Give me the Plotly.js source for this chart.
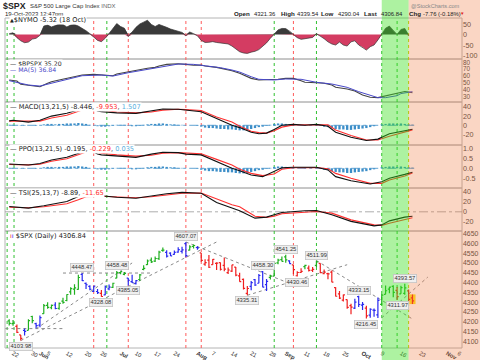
<!DOCTYPE html>
<html><head><meta charset="utf-8">
<script src="https://cdn.plot.ly/plotly-3.0.1.min.js"></script>
<style>html,body{margin:0;padding:0;background:#fff}#chart{width:480px;height:360px}</style>
</head><body><div id="chart"></div>
<script>
// ================= DATA =================
const holidays = ['2023-05-29','2023-06-19','2023-07-04','2023-09-04'];
const days = ['2023-05-19','2023-05-22','2023-05-23','2023-05-24','2023-05-25','2023-05-26','2023-05-30','2023-05-31','2023-06-01',
'2023-06-02','2023-06-05','2023-06-06','2023-06-07','2023-06-08','2023-06-09','2023-06-12','2023-06-13','2023-06-14','2023-06-15','2023-06-16',
'2023-06-20','2023-06-21','2023-06-22','2023-06-23','2023-06-26','2023-06-27','2023-06-28','2023-06-29','2023-06-30',
'2023-07-03','2023-07-05','2023-07-06','2023-07-07','2023-07-10','2023-07-11','2023-07-12','2023-07-13','2023-07-14',
'2023-07-17','2023-07-18','2023-07-19','2023-07-20','2023-07-21','2023-07-24','2023-07-25','2023-07-26','2023-07-27','2023-07-28','2023-07-31','2023-08-01',
'2023-08-02','2023-08-03','2023-08-04','2023-08-07','2023-08-08','2023-08-09','2023-08-10','2023-08-11','2023-08-14','2023-08-15','2023-08-16','2023-08-17','2023-08-18',
'2023-08-21','2023-08-22','2023-08-23','2023-08-24','2023-08-25','2023-08-28','2023-08-29','2023-08-30','2023-08-31','2023-09-01',
'2023-09-05','2023-09-06','2023-09-07','2023-09-08','2023-09-11','2023-09-12','2023-09-13','2023-09-14','2023-09-15',
'2023-09-18','2023-09-19','2023-09-20','2023-09-21','2023-09-22','2023-09-25','2023-09-26','2023-09-27','2023-09-28','2023-09-29',
'2023-10-02','2023-10-03','2023-10-04','2023-10-05','2023-10-06','2023-10-09','2023-10-10','2023-10-11','2023-10-12','2023-10-13','2023-10-16','2023-10-17','2023-10-18','2023-10-19'];
const open = [4204.15,4190.78,4176.80,4132.96,4155.71,4156.16,4226.71,4190.74,4183.03,
 4241.01,4282.99,4271.34,4285.47,4268.69,4304.88,4308.32,4352.61,4366.29,4365.33,4440.95,
 4396.11,4380.01,4355.40,4354.17,4344.84,4337.36,4367.48,4374.94,4422.44,
 4450.48,4442.04,4422.62,4404.54,4394.23,4415.55,4467.69,4491.50,4514.61,
 4508.86,4521.78,4563.87,4554.38,4550.16,4543.39,4555.19,4558.96,4598.26,4565.75,4584.82,4578.83,
 4550.93,4494.27,4513.96,4491.58,4498.03,4501.57,4487.16,4450.69,4458.13,4478.87,4433.79,4416.32,4344.88,
 4380.28,4415.33,4396.44,4455.16,4389.38,4426.03,4432.75,4500.34,4517.01,4530.60,
 4510.06,4490.35,4434.55,4451.30,4480.98,4473.27,4462.65,4487.78,4497.98,
 4445.13,4445.41,4452.81,4374.36,4341.74,4310.62,4312.88,4282.63,4269.65,4328.18,
 4284.52,4269.75,4233.83,4259.31,4234.79,4289.02,4339.75,4366.59,4380.94,4360.49,4342.37,4345.23,4357.35,4321.36];
const high = [4212.91,4209.22,4185.68,4132.96,4165.74,4212.87,4231.10,4195.44,4232.43,
 4290.67,4299.28,4288.33,4299.19,4298.01,4322.62,4340.13,4375.37,4391.82,4439.20,4448.47,
 4400.15,4386.22,4382.25,4366.55,4362.06,4384.42,4390.35,4398.39,4458.48,
 4456.46,4454.06,4422.62,4440.39,4412.60,4443.64,4488.34,4517.38,4527.76,
 4532.85,4562.30,4578.43,4564.74,4555.00,4563.41,4580.62,4582.47,4607.07,4590.16,4594.22,4584.62,
 4550.93,4519.49,4540.34,4519.84,4503.31,4502.44,4527.37,4476.23,4490.33,4478.87,4449.95,4421.17,4381.82,
 4407.55,4418.59,4443.18,4458.30,4418.46,4439.56,4500.14,4521.65,4532.26,4541.25,
 4514.29,4490.35,4457.81,4473.53,4490.77,4487.11,4479.39,4511.99,4497.98,
 4466.36,4449.85,4461.03,4375.70,4357.40,4338.51,4313.01,4292.07,4317.27,4333.15,
 4300.58,4281.15,4268.50,4267.13,4324.10,4341.73,4385.46,4378.64,4385.85,4377.10,4383.33,4393.57,4364.20,4339.54];
const low = [4180.20,4179.68,4142.54,4103.98,4129.73,4156.16,4192.18,4166.15,4171.64,
 4241.01,4266.82,4263.09,4263.96,4261.07,4291.70,4304.37,4337.54,4337.85,4362.60,4407.44,
 4367.19,4360.14,4351.82,4341.34,4328.08,4335.00,4360.22,4371.97,4422.44,
 4442.29,4436.61,4385.05,4397.40,4389.92,4408.46,4463.23,4489.36,4499.56,
 4504.90,4514.59,4557.48,4527.56,4535.79,4541.29,4552.42,4547.58,4528.56,4564.01,4573.14,4567.53,
 4505.75,4485.54,4474.55,4491.15,4464.39,4461.33,4457.92,4443.98,4453.44,4432.19,4403.55,4364.83,4335.31,
 4360.30,4382.77,4396.44,4375.55,4356.29,4414.98,4431.68,4493.59,4507.39,4501.35,
 4496.01,4442.38,4430.46,4448.38,4467.89,4456.83,4453.52,4478.69,4447.21,
 4442.11,4416.61,4401.38,4329.17,4316.49,4302.70,4265.98,4238.63,4264.38,4274.86,
 4260.21,4216.45,4220.48,4225.91,4219.55,4283.79,4339.64,4345.34,4325.43,4311.97,4342.37,4337.54,4303.84,4290.04];
const close = [4191.98,4192.63,4145.58,4115.24,4151.28,4205.45,4205.52,4179.83,4221.02,
 4282.37,4273.79,4283.85,4267.52,4293.93,4298.86,4338.93,4369.01,4372.59,4425.84,4409.59,
 4388.71,4365.69,4381.89,4348.33,4328.82,4378.41,4376.86,4396.44,4450.38,
 4455.59,4446.82,4411.59,4398.95,4409.53,4439.26,4472.16,4510.04,4505.42,
 4522.79,4554.98,4565.72,4534.87,4536.34,4554.64,4567.46,4566.75,4537.41,4582.23,4588.96,4576.73,
 4513.39,4501.89,4478.03,4518.44,4499.38,4467.71,4468.83,4464.05,4489.72,4437.86,4404.33,4370.36,4369.71,
 4399.77,4387.55,4436.01,4376.31,4405.71,4433.31,4497.63,4514.87,4507.66,4515.77,
 4496.83,4465.48,4451.14,4457.49,4487.46,4461.90,4467.44,4505.10,4450.32,
 4453.53,4443.95,4402.20,4330.00,4320.06,4337.44,4273.53,4274.51,4299.70,4288.05,
 4288.39,4229.45,4263.75,4258.19,4308.50,4335.66,4358.24,4376.95,4349.61,4327.78,4373.63,4373.20,4314.60,4306.84];
// bar colour per day: g = green, r = red, b = blue
const impulse = ('ggrrbggbb'+'gggbggggggb'+'bbbbrbbgg'+'ggbbbgggg'+'gggbbbbbbggb'+'rrrrrrrrrrrrr'+'bbbbbggggg'+'brrrgrrgr'+'rrrrrrrrbb'+'brbbbggggrggrr').split('');

// $NYMO daily (to 18 Oct)
const nymo = [4,8,-15,-30,-39,-36,-22,-18,-4,
 40,45,36,42,50,48,36,45,48,40,30,
 18,4,-12,-28,-34,-18,5,30,52,
 38,30,-10,12,34,50,58,68,48,
 38,48,42,34,26,20,14,10,-6,12,4,-6,
 -28,-38,-37,-34,-38,-40,-40,-45,-55,-68,-82,-88,-90,
 -84,-80,-72,-56,-40,-18,2,22,29,28,
 16,-2,-15,-23,-20,-16,-14,4,-7,
 -20,-35,-45,-50,-36,-50,-55,-35,-30,-50,
 -60,-74,-58,-50,-26,0,30,40,18,0,24,29,-5.32];

const bpDates = ['2023-05-19','2023-05-23','2023-05-24','2023-05-26','2023-05-30','2023-06-01','2023-06-05','2023-06-06','2023-06-08','2023-06-12','2023-06-14','2023-06-16','2023-06-22','2023-06-26','2023-06-27','2023-06-29','2023-06-30','2023-07-06','2023-07-10','2023-07-11','2023-07-13','2023-07-17','2023-07-18','2023-07-20','2023-07-24','2023-07-25','2023-07-27','2023-07-31','2023-08-02','2023-08-03','2023-08-08','2023-08-10','2023-08-14','2023-08-16','2023-08-21','2023-08-23','2023-08-25','2023-08-30','2023-09-01','2023-09-06','2023-09-08','2023-09-11','2023-09-14','2023-09-18','2023-09-20','2023-09-21','2023-09-26','2023-09-28','2023-10-02','2023-10-04','2023-10-06','2023-10-10','2023-10-12','2023-10-16','2023-10-17','2023-10-18','2023-10-19'];
const bpVals = [54,52.5,47.6,46.6,45.6,44.1,49.1,51.5,54,56.4,58.8,61.3,62.3,61.3,61.3,60.3,62.8,66.2,67.7,68.7,71.2,72.6,74.6,77,77.5,78,77,75.6,76,74.6,72.6,70.2,67.7,63.8,56.4,54,54,55,56.4,56.4,53,50.6,50,49.1,46.6,43.2,40.7,37.8,31.9,28.5,28,30.4,32.9,35,37,36.2,35.2];
const maDates = ['2023-05-19','2023-05-24','2023-05-26','2023-06-01','2023-06-06','2023-06-12','2023-06-16','2023-06-26','2023-06-29','2023-07-06','2023-07-11','2023-07-14','2023-07-20','2023-07-25','2023-07-31','2023-08-03','2023-08-09','2023-08-14','2023-08-16','2023-08-21','2023-08-23','2023-08-29','2023-09-01','2023-09-08','2023-09-14','2023-09-20','2023-09-26','2023-09-29','2023-10-05','2023-10-06','2023-10-10','2023-10-13','2023-10-16','2023-10-19'];
const maVals = [53,49.1,46.6,45.1,49.1,55,60.3,61.3,59.8,64.7,67.7,71.2,75.1,77.5,77,75.1,72.1,68.7,65.7,58.8,55,54,55.5,55,50.6,48.1,43.2,36.8,29.4,28,28,30.9,34,36.84];

const macdDates = ['2023-05-19','2023-05-22','2023-05-26','2023-06-01','2023-06-06','2023-06-12','2023-06-14','2023-06-16','2023-06-20','2023-06-22','2023-06-23','2023-06-26','2023-06-30','2023-07-10','2023-07-14','2023-07-19','2023-07-25','2023-07-27','2023-08-02','2023-08-08','2023-08-14','2023-08-16','2023-08-21','2023-08-23','2023-08-25','2023-08-29','2023-08-31','2023-09-06','2023-09-11','2023-09-14','2023-09-19','2023-09-21','2023-09-27','2023-10-03','2023-10-06','2023-10-11','2023-10-17','2023-10-19'];
const macdVals = [9.6,11,7,11,20,26,31,36,38,36,31,29.6,27,26,31,35.5,35,33,29.6,15,0,-5,-15,-18.5,-17,-9,0,2,0,2,-2,-15,-26,-33,-30,-18.5,-11,-8.446];
const sigDates = ['2023-05-19','2023-05-26','2023-06-01','2023-06-06','2023-06-12','2023-06-16','2023-06-20','2023-06-23','2023-06-27','2023-06-30','2023-07-10','2023-07-14','2023-07-19','2023-07-25','2023-07-27','2023-08-02','2023-08-08','2023-08-14','2023-08-16','2023-08-21','2023-08-23','2023-08-25','2023-08-29','2023-08-31','2023-09-06','2023-09-11','2023-09-14','2023-09-19','2023-09-21','2023-09-27','2023-10-03','2023-10-06','2023-10-11','2023-10-17','2023-10-19'];
const sigVals = [9,8,9,16,22,33,35,34,32,29,27,29,33,35,34,32,18,7,-2,-13,-16,-17,-12,-4,1,1,1,1,-10,-22,-32,-32,-24,-15,-9.953];
const macdHist = [1,1,0,-1,-1,0,0,-1,0,
 2,3,3,2,3,3,4,4,4,5,4,
 3,1,0,-2,-3,-3,-2,-1,1,
 1,1,-1,-2,-2,-1,1,2,3,
 3,4,4,3,2,2,1,1,0,0,0,-1,
 -3,-5,-6,-6,-7,-8,-8,-9,-9,-10,-11,-11,-10,
 -8,-6,-4,-3,-1,1,3,4,4,3,
 2,1,0,0,1,0,0,1,-1,
 -3,-4,-6,-8,-9,-9,-10,-10,-9,-8,
 -7,-6,-4,-2,0,2,3,4,4,3,4,3,2,1.507];

const ppoDates = ['2023-05-19','2023-05-26','2023-06-01','2023-06-06','2023-06-12','2023-06-14','2023-06-16','2023-06-20','2023-06-22','2023-06-23','2023-06-26','2023-06-30','2023-07-10','2023-07-14','2023-07-19','2023-07-25','2023-07-27','2023-08-02','2023-08-08','2023-08-14','2023-08-16','2023-08-21','2023-08-24','2023-08-29','2023-08-31','2023-09-06','2023-09-14','2023-09-19','2023-09-21','2023-09-27','2023-10-04','2023-10-09','2023-10-11','2023-10-17','2023-10-19'];
const ppoVals = [0.21,0.16,0.24,0.41,0.54,0.68,0.82,0.86,0.8,0.70,0.66,0.60,0.54,0.70,0.79,0.77,0.70,0.66,0.33,0,-0.12,-0.33,-0.41,-0.17,0.03,0.05,0.05,-0.08,-0.41,-0.61,-0.77,-0.66,-0.49,-0.30,-0.195];
const ppoSigDates = ['2023-05-19','2023-05-26','2023-06-01','2023-06-06','2023-06-12','2023-06-16','2023-06-20','2023-06-23','2023-06-26','2023-06-30','2023-07-10','2023-07-14','2023-07-19','2023-07-25','2023-07-27','2023-08-02','2023-08-08','2023-08-14','2023-08-16','2023-08-21','2023-08-24','2023-08-29','2023-08-31','2023-09-06','2023-09-14','2023-09-19','2023-09-21','2023-09-27','2023-10-04','2023-10-09','2023-10-11','2023-10-17','2023-10-19'];
const ppoSigVals = [0.19,0.17,0.2,0.35,0.47,0.74,0.8,0.78,0.74,0.66,0.6,0.64,0.74,0.77,0.76,0.72,0.44,0.16,-0.05,-0.25,-0.36,-0.28,-0.05,0.03,0.04,-0.02,-0.25,-0.49,-0.74,-0.74,-0.58,-0.38,-0.229];
const ppoHist = [0.02,0.02,0,-0.02,-0.02,0,0,-0.02,0,
 0.05,0.07,0.07,0.05,0.07,0.07,0.09,0.09,0.09,0.11,0.09,
 0.07,0.02,0,-0.05,-0.07,-0.07,-0.05,-0.02,0.02,
 0.02,0.02,-0.02,-0.05,-0.05,-0.02,0.02,0.05,0.07,
 0.07,0.09,0.09,0.07,0.05,0.05,0.02,0.02,0,0,0,-0.02,
 -0.07,-0.11,-0.14,-0.14,-0.16,-0.18,-0.18,-0.2,-0.2,-0.23,-0.25,-0.25,-0.23,
 -0.18,-0.14,-0.09,-0.07,-0.02,0.02,0.07,0.09,0.09,0.07,
 0.05,0.02,0,0,0.02,0,0,0.02,-0.02,
 -0.07,-0.09,-0.14,-0.18,-0.2,-0.2,-0.23,-0.23,-0.2,-0.18,
 -0.16,-0.14,-0.09,-0.05,0,0.05,0.07,0.09,0.09,0.07,0.09,0.07,0.05,0.035];

const tsiDates = ['2023-05-19','2023-05-26','2023-06-02','2023-06-12','2023-06-15','2023-06-20','2023-06-26','2023-06-30','2023-07-10','2023-07-14','2023-07-20','2023-07-26','2023-08-02','2023-08-08','2023-08-14','2023-08-16','2023-08-22','2023-08-25','2023-08-29','2023-08-31','2023-09-11','2023-09-14','2023-09-20','2023-09-27','2023-10-05','2023-10-09','2023-10-11','2023-10-17','2023-10-19'];
const tsiVals = [10.6,7.4,12,20.6,30.6,36,32,29,27,32,36,38.6,37,18.6,7.4,2,-12.6,-10.6,-6,-1.3,2,2.6,-6,-19,-28,-26,-18,-10.6,-8.89];
const tsiSigVals = [9,8,10,16,24,30,31,30,28,30,34,37,37.5,25,14,10,-9,-11,-9,-4,0,0.6,-2.6,-16,-26,-27,-22.6,-14.6,-11.65];

// annotated price points [date, value, side]
const priceLabels = [['2023-05-24',4103.98,'below'],['2023-06-16',4448.47,'above'],['2023-06-26',4328.08,'below'],
 ['2023-06-30',4458.48,'above'],['2023-07-06',4385.05,'below'],['2023-07-27',4607.07,'above'],['2023-08-18',4335.31,'below'],
 ['2023-08-24',4458.30,'above'],['2023-09-01',4541.25,'above'],['2023-09-07',4430.46,'below'],['2023-09-14',4511.99,'above'],
 ['2023-09-29',4333.15,'above'],['2023-10-03',4216.45,'below'],['2023-10-13',4311.97,'below'],['2023-10-17',4393.57,'above']];
// dotted trend lines [date1, price1, date2, price2]
const trendLines = [['2023-05-18',4165,'2023-06-09',4165],['2023-06-09',4448.47,'2023-07-14',4448.47],
 ['2023-05-24',4104,'2023-08-08',4607],['2023-05-31',4164,'2023-07-07',4500],['2023-07-27',4607,'2023-09-07',4380],
 ['2023-08-18',4335,'2023-09-26',4491],['2023-09-14',4512,'2023-10-19',4214],['2023-10-09',4220,'2023-10-25',4428]];
// vertical signal markers
const markerLines = [['2023-05-18 11:00','g'],['2023-05-22 06:00','g'],['2023-06-22','r'],['2023-06-27 10:00','g'],['2023-07-06','r'],
 ['2023-07-27','r'],['2023-08-02','r'],['2023-08-29','g'],['2023-09-06','r'],['2023-09-14','g'],['2023-10-09','g'],['2023-10-13','g'],['2023-10-18','y']];
const bandDates = ['2023-10-09','2023-10-18'];
const tickDates = ['2023-05-22','2023-05-30','2023-06-01','2023-06-05','2023-06-12','2023-06-20','2023-06-26','2023-07-03','2023-07-10','2023-07-17','2023-07-24','2023-08-01','2023-08-07','2023-08-14','2023-08-21','2023-08-28','2023-09-01','2023-09-11','2023-09-18','2023-09-25','2023-10-02','2023-10-09','2023-10-16','2023-10-23','2023-11-01','2023-11-06'];
const tickText = ['22','30','<b>Jun</b>','5','12','20','26','<b>Jul</b>','10','17','24','<b>Aug</b>','7','14','21','28','<b>Sep</b>','11','18','25','<b>Oct</b>','9','16','23','<b>Nov</b>','6'];

// ================= helpers =================
const DAY = 86400000, ORIGIN = Date.UTC(2023,4,1);
function isTrading(ms){ const d=new Date(ms), wd=d.getUTCDay(); return wd!==0 && wd!==6 && !holidays.includes(d.toISOString().slice(0,10)); }
function countBefore(ms){ let n=0; for(let m=ORIGIN;m<ms;m+=DAY) if(isTrading(m)) n++; return n; }
const BASE_N = countBefore(Date.UTC(2023,4,22));
function tday(s){ const [d,t]=s.split(' '); const ms=Date.parse(d+'T00:00:00Z'); let f=0; if(t){const [hh,mm]=t.split(':').map(Number); f=(hh*60+mm)/1440;} return countBefore(ms)-BASE_N+f; }

const W=480,H=360,ML=5,MR=18,MT=18,MB=12, PW=W-ML-MR, PH=H-MT-MB;
const XR=[-2.1,116.9];
const px = x => (x-ML)/PW, py = y => (H-MB-y)/PH;
const xp = v => (v-XR[0])/(XR[1]-XR[0]);
const edges=[18,59,102,145,188,231,348];
const dom = i => [py(edges[i+1]), py(edges[i])];
const FONT='Liberation Sans, Arial, sans-serif', LFONT='DejaVu Sans, Verdana, sans-serif';
const X = days.map(tday);
const n = days.length;

const traces=[];
// NYMO
const nx = X.slice(0,nymo.length);
traces.push({type:'scatter',mode:'lines',x:nx,y:nymo.map(v=>Math.max(v,0)),fill:'tozeroy',fillcolor:'#3a3a3a',line:{width:0,color:'#3a3a3a'},yaxis:'y',hoverinfo:'skip'});
traces.push({type:'scatter',mode:'lines',x:nx,y:nymo.map(v=>Math.min(v,0)),fill:'tozeroy',fillcolor:'#d43c62',line:{width:0,color:'#d43c62'},yaxis:'y',hoverinfo:'skip'});
traces.push({type:'scatter',mode:'lines',x:nx,y:nymo,line:{width:0.7,color:'#333'},yaxis:'y',hoverinfo:'skip'});
// BPSPX
traces.push({type:'scatter',mode:'lines',x:bpDates.map(tday),y:bpVals,line:{width:1.1,color:'#444'},yaxis:'y2',hoverinfo:'skip'});
traces.push({type:'scatter',mode:'lines',x:maDates.map(tday),y:maVals,line:{width:1,color:'#4848c8'},yaxis:'y2',hoverinfo:'skip'});
// MACD
traces.push({type:'bar',x:X,y:macdHist,width:0.6,marker:{color:'#3c8ec8',line:{width:0}},yaxis:'y3',hoverinfo:'skip'});
traces.push({type:'scatter',mode:'lines',x:sigDates.map(tday),y:sigVals,line:{width:1.1,color:'#ff3030'},yaxis:'y3',hoverinfo:'skip'});
traces.push({type:'scatter',mode:'lines',x:macdDates.map(tday),y:macdVals,line:{width:1.1,color:'#111'},yaxis:'y3',hoverinfo:'skip'});
// PPO
traces.push({type:'bar',x:X,y:ppoHist,width:0.6,marker:{color:'#3c8ec8',line:{width:0}},yaxis:'y4',hoverinfo:'skip'});
traces.push({type:'scatter',mode:'lines',x:ppoSigDates.map(tday),y:ppoSigVals,line:{width:1.1,color:'#ff3030'},yaxis:'y4',hoverinfo:'skip'});
traces.push({type:'scatter',mode:'lines',x:ppoDates.map(tday),y:ppoVals,line:{width:1.1,color:'#111'},yaxis:'y4',hoverinfo:'skip'});
// TSI
traces.push({type:'scatter',mode:'lines',x:tsiDates.map(tday),y:tsiSigVals,line:{width:1.1,color:'#ff3030'},yaxis:'y5',hoverinfo:'skip'});
traces.push({type:'scatter',mode:'lines',x:tsiDates.map(tday),y:tsiVals,line:{width:1.1,color:'#111'},yaxis:'y5',hoverinfo:'skip'});
// SPX bars
const cmap={g:'#20b020',r:'#f01e1e',b:'#2828f0'};
['g','r','b'].forEach(k=>{
  const id=[]; impulse.forEach((c,i)=>{ if(c===k) id.push(i); });
  traces.push({type:'ohlc',x:id.map(i=>X[i]),open:id.map(i=>open[i]),high:id.map(i=>high[i]),low:id.map(i=>low[i]),close:id.map(i=>close[i]),
    increasing:{line:{color:cmap[k],width:1.2}},decreasing:{line:{color:cmap[k],width:1.2}},tickwidth:0.42,yaxis:'y6',hoverinfo:'skip'});
});

// ================= axes =================
function yax(i,range,vals,text,fs){ return {domain:dom(i),range,anchor:'x',side:'right',tickvals:vals,ticktext:text,showgrid:false,zeroline:false,ticks:'',showline:false,
  tickfont:{family:FONT,size:fs||7.2,color:'#444'},fixedrange:true}; }
const spxTicks=[]; for(let v=4100; v<=4650; v+=50) spxTicks.push(v);
const layout={
  width:W,height:H,margin:{l:ML,r:MR,t:MT,b:MB,pad:0},paper_bgcolor:'#fff',plot_bgcolor:'rgba(0,0,0,0)',
  showlegend:false,barmode:'overlay',font:{family:FONT,size:7,color:'#333'},
  xaxis:{range:XR,anchor:'y6',tickvals:tickDates.map(tday),ticktext:tickText,tickfont:{family:FONT,size:5.8,color:'#333'},
    showgrid:false,zeroline:false,showline:false,ticks:'',rangeslider:{visible:false},fixedrange:true},
  yaxis: yax(0,[-116.7,78.6],[50,0,-50,-100],['50','0','-50','-100']),
  yaxis2:yax(1,[21.6,84.9],[80,70,60,50,40,30],['80','70','60','50','40','30'],6.4),
  yaxis3:yax(2,[-42.8,50.6],[40,20,0,-20],['40','20','0','-20']),
  yaxis4:yax(3,[-0.97,1.148],[1,0.5,0,-0.5],['1.0','0.5','0.0','-0.5']),
  yaxis5:yax(4,[-38.2,47.4],[40,20,0,-20],['40','20','0','-20']),
  yaxis6:yax(5,[4066,4663],spxTicks,spxTicks.map(String),6.9),
  shapes:[],annotations:[]
};
const S=layout.shapes, A=layout.annotations;
for(let i=0;i<6;i++){ const d=dom(i); S.push({type:'rect',xref:'paper',yref:'paper',x0:0,x1:1,y0:d[0],y1:d[1],line:{color:'#b4b4b4',width:1},fillcolor:'rgba(0,0,0,0)',layer:'below'}); }
const mcol={g:'#30c030',r:'#ff5a5a',y:'#d8c800'};
markerLines.forEach(([d,c])=>S.push({type:'line',xref:'x',yref:'paper',x0:tday(d),x1:tday(d),y0:0,y1:1,line:{color:mcol[c],width:1,dash:'dot'},layer:'below'}));
S.push({type:'line',xref:'x',yref:'y3',x0:X[0],x1:X[n-1]+0.5,y0:0,y1:0,line:{color:'#3c8ec8',width:0.8,dash:'dashdot'},layer:'below'});
S.push({type:'line',xref:'x',yref:'y4',x0:X[0],x1:X[n-1]+0.5,y0:0,y1:0,line:{color:'#3c8ec8',width:0.8,dash:'dashdot'},layer:'below'});
S.push({type:'line',xref:'paper',yref:'y5',x0:0,x1:1,y0:0,y1:0,line:{color:'#999',width:0.8,dash:'dashdot'},layer:'below'});
trendLines.forEach(([d1,p1,d2,p2])=>S.push({type:'line',xref:'x',yref:'y6',x0:tday(d1),y0:p1,x1:tday(d2),y1:p2,line:{color:'#8a8a8a',width:1,dash:'dot'},layer:'below'}));
// highlight of the latest bar
S.push({type:'rect',xref:'x',yref:'y6',x0:X[n-1]-0.8,x1:X[n-1]+0.8,y0:low[n-1],y1:high[n-1],fillcolor:'#ffe21a',line:{width:0},layer:'below'});
// overlays
const yTop=py(0), yBot=py(H);
S.push({type:'rect',xref:'paper',yref:'paper',x0:xp(tday(bandDates[0])),x1:xp(tday(bandDates[1])),y0:yBot,y1:yTop,fillcolor:'rgba(60,225,30,0.42)',line:{width:0},layer:'above'});
S.push({type:'rect',xref:'paper',yref:'paper',x0:xp(tday(bandDates[1])),x1:px(W),y0:yBot,y1:yTop,fillcolor:'rgba(238,120,60,0.30)',line:{width:0},layer:'above'});

// ================= text =================
function ann(x,y,text,size,color,family,extra){ return Object.assign({xref:'paper',yref:'paper',x:px(x),y:py(y),text,showarrow:false,xanchor:'left',yanchor:'middle',
  font:{family:family||FONT,size:size,color:color||'#222'},borderpad:0},extra||{}); }
const L=n-1, chg=close[L]-close[L-1], pct=chg/close[L-1]*100;
A.push(ann(2,5.8,'<b>$SPX</b>',8.8,'#222'));
A.push(ann(29,6.2,'S&amp;P 500 Large Cap Index <span style="color:#666">INDX</span>',6,'#333'));
A.push(ann(4,14,'19-Oct-2023 12:47pm',6,'#222'));
const hdr=[[233,'<b>Open</b>',6.2],[253,open[L].toFixed(2),5.9],[280,'<b>High</b>',6.2],[296,high[L].toFixed(2),5.9],[320,'<b>Low</b>',6.2],[337,low[L].toFixed(2),5.9],
  [363,'<b>Last</b>',6.2],[380,close[L].toFixed(2),5.9],[408,'<b>Chg</b>',6.2],[422,chg.toFixed(2)+' ('+pct.toFixed(2)+'%)',5.9]];
hdr.forEach(([x,t,s])=>A.push(ann(x,13.8,t,s,'#222')));
A.push(ann(459,13.8,'▼',4.5,'#e02020'));
A.push(ann(410,5.5,'@StockCharts.com',5.6,'#888'));
const leg=(y,t,s)=>A.push(ann(9,y,t,s||6.6,'#222',LFONT,{bgcolor:'#ffffff'}));
leg(20.5,'<span style="font-size:5px">▲</span>$NYMO '+nymo[nymo.length-1].toFixed(2)+' (18 Oct)');
leg(63,'— $BPSPX '+bpVals[bpVals.length-1].toFixed(2),6.2);
leg(69.2,'<span style="color:#4848c8">— MA(5) '+maVals[maVals.length-1].toFixed(2)+'</span>',6.2);
leg(106.5,'— MACD(13,21,5) '+macdVals[macdVals.length-1].toFixed(3)+', <span style="color:#ff3030">'+sigVals[sigVals.length-1].toFixed(3)+'</span>, <span style="color:#5ab0e0">'+macdHist[n-1].toFixed(3)+'</span>');
leg(149.3,'— PPO(13,21,5) '+ppoVals[ppoVals.length-1].toFixed(3)+', <span style="color:#ff3030">'+ppoSigVals[ppoSigVals.length-1].toFixed(3)+'</span>, <span style="color:#5ab0e0">'+ppoHist[n-1].toFixed(3)+'</span>');
leg(192.5,'— TSI(25,13,7) '+tsiVals[tsiVals.length-1].toFixed(2)+', <span style="color:#ff3030">'+tsiSigVals[tsiSigVals.length-1].toFixed(2)+'</span>');
leg(235.7,'<span style="color:#f01e1e">ı</span><span style="color:#2828f0">ı</span> $SPX (Daily) '+close[L].toFixed(2));
priceLabels.forEach(([d,v,s])=>A.push({xref:'x',yref:'y6',x:tday(d),y:v,text:v.toFixed(2),showarrow:false,xanchor:'center',
  yanchor:s==='above'?'bottom':'top',yshift:s==='above'?1:-1,font:{family:FONT,size:5.8,color:'#333'},bgcolor:'#efefef',bordercolor:'#c4c4c4',borderwidth:0.8,borderpad:0.6}));

Plotly.newPlot('chart',traces,layout,{staticPlot:true,displayModeBar:false});
</script></body></html>
